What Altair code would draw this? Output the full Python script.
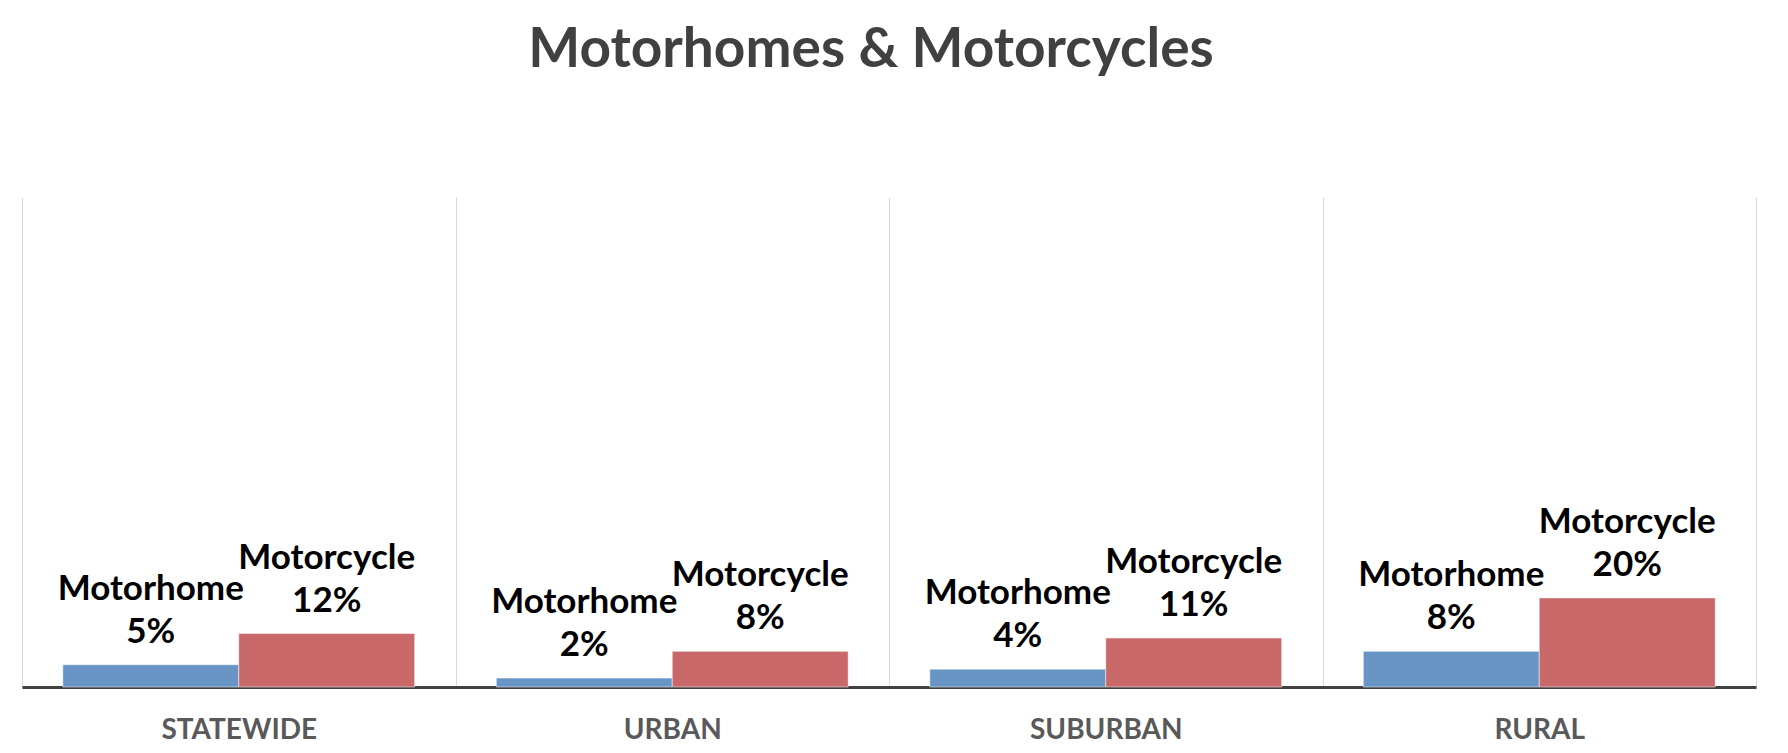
import altair as alt
import pandas as pd

categories = ["STATEWIDE", "URBAN", "SUBURBAN", "RURAL"]
series = ["Motorhome", "Motorcycle"]
motorhome = [0.05, 0.02, 0.04, 0.08]
motorcycle = [0.12, 0.08, 0.11, 0.20]
colors = ["#6894C6", "#C86868"]

rows = []
for i, c in enumerate(categories):
    for s, vals in zip(series, [motorhome, motorcycle]):
        v = vals[i]
        rows.append({"area": c, "series": s, "value": v,
                     "label": f"{s}\n{round(v * 100)}%"})
df = pd.DataFrame(rows)

x = alt.X(
    "area:N", sort=categories,
    scale=alt.Scale(paddingInner=0, paddingOuter=0),
    axis=alt.Axis(title=None, labelAngle=0, ticks=False, grid=True,
                  tickBand="extent", gridColor="#D9D9D9", gridWidth=1,
                  domainColor="#404040", domainWidth=3,
                  labelFont="Lato", labelFontWeight="bold", labelFontSize=28,
                  labelColor="#595959", labelPadding=29),
)
xo = alt.XOffset("series:N", sort=series,
                 scale=alt.Scale(paddingInner=0, paddingOuter=0.232))
y = alt.Y("value:Q", scale=alt.Scale(domain=[0, 1.1]), axis=None)
color = alt.Color("series:N", sort=series,
                  scale=alt.Scale(domain=series, range=colors), legend=None)

bars = alt.Chart(df).mark_bar(stroke="white", strokeWidth=1, strokeOpacity=0.5).encode(
    x=x, xOffset=xo, y=y, color=color
)
labels = alt.Chart(df).mark_text(
    font="Lato", fontWeight="bold", fontSize=35, color="black",
    baseline="bottom", lineBreak="\n", lineHeight=43, dy=-58
).encode(x=x, xOffset=xo, y=y, text="label:N")

chart = (bars + labels).properties(
    width=1734, height=490,
    title=alt.TitleParams("Motorhomes & Motorcycles", font="Lato", fontSize=55,
                          fontWeight="bold", color="#404040", anchor="middle",
                          dx=-18, offset=75, baseline="alphabetic"),
    autosize=alt.AutoSizeParams(type="none"),
    padding={"left": 14, "top": 189, "right": 24, "bottom": 56},
).configure_view(stroke=None)

chart.save("out.html", embed_options={"renderer": "svg", "actions": False})
